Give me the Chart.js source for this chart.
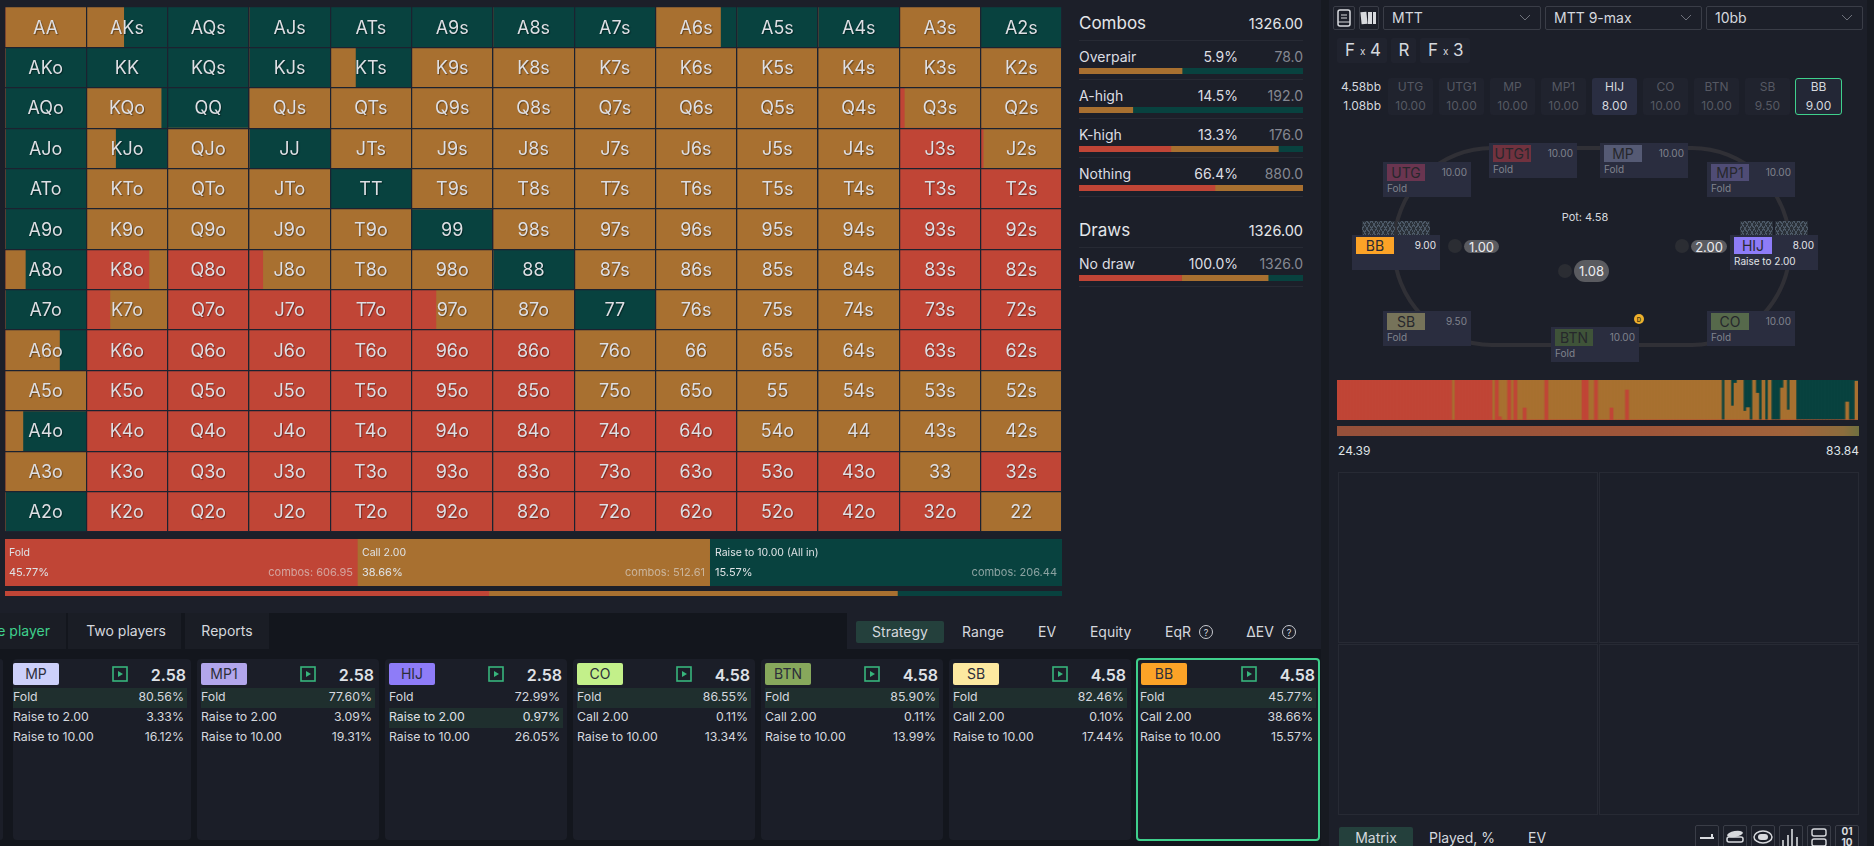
<!DOCTYPE html>
<html><head><meta charset="utf-8">
<script src="https://cdn.jsdelivr.net/npm/chart.js@4"></script>
<style>
html,body{margin:0;padding:0;width:1874px;height:846px;overflow:hidden;background:#1c1f29;font-family:Inter,"Noto Sans",sans-serif;}
#stage{position:absolute;left:0;top:0;width:1874px;height:846px;overflow:hidden;}
#stage div,#stage span,#stage canvas,#stage svg{position:absolute;box-sizing:border-box;}
#stage span{white-space:nowrap;line-height:1;}
</style></head><body><div id="stage"></div>
<script>
const RED='#c04536',ORANGE='#a87030',GREEN='#08423f';

/* ---------- data ---------- */
const ranks=['A','K','Q','J','T','9','8','7','6','5','4','3','2'];
const cellFold=[
[0,0,0,0,0,0,0,0,0,0,0,0,0],
[0,0,0,0,0,0,0,0,0,0,0,0,0],
[0,0,0,0,0,0,0,0,0,0,0,6,0],
[0,0,0,0,0,0,0,0,0,0,0,100,3],
[0,0,0,0,0,0,0,0,0,0,0,100,100],
[0,0,0,0,0,0,0,0,0,0,0,100,100],
[0,77,100,17,0,0,0,0,0,0,0,100,100],
[0,29,100,100,100,30,0,0,0,0,0,100,100],
[0,100,100,100,100,100,100,0,0,0,0,100,100],
[0,100,100,100,100,100,100,0,0,0,0,0,0],
[0,100,100,100,100,100,100,100,100,0,0,0,0],
[0,100,100,100,100,100,100,100,100,100,100,0,100],
[0,100,100,100,100,100,100,100,100,100,100,100,0]];
const cellCall=[
[100,46,0,0,0,0,0,0,80,0,0,100,0],
[0,0,0,0,31,100,100,100,100,100,100,100,100],
[0,92,0,100,100,100,100,100,100,100,100,94,100],
[0,36,100,0,100,100,100,100,100,100,100,0,97],
[0,100,100,100,0,100,100,100,100,100,100,0,0],
[0,100,100,100,100,0,100,100,100,100,100,0,0],
[25,23,0,83,100,100,0,100,100,100,100,0,0],
[0,71,0,0,0,70,100,0,100,100,100,0,0],
[67,0,0,0,0,0,0,100,100,100,100,0,0],
[100,0,0,0,0,0,0,100,100,100,100,100,100],
[22,0,0,0,0,0,0,0,0,100,100,100,100],
[100,0,0,0,0,0,0,0,0,0,0,100,0],
[0,0,0,0,0,0,0,0,0,0,0,0,100]];
const cellRaise=[
[0,54,100,100,100,100,100,100,20,100,100,0,100],
[100,100,100,100,69,0,0,0,0,0,0,0,0],
[100,8,100,0,0,0,0,0,0,0,0,0,0],
[100,64,0,100,0,0,0,0,0,0,0,0,0],
[100,0,0,0,100,0,0,0,0,0,0,0,0],
[100,0,0,0,0,100,0,0,0,0,0,0,0],
[75,0,0,0,0,0,100,0,0,0,0,0,0],
[100,0,0,0,0,0,0,100,0,0,0,0,0],
[33,0,0,0,0,0,0,0,0,0,0,0,0],
[0,0,0,0,0,0,0,0,0,0,0,0,0],
[78,0,0,0,0,0,0,0,0,0,0,0,0],
[0,0,0,0,0,0,0,0,0,0,0,0,0],
[100,0,0,0,0,0,0,0,0,0,0,0,0]];

const actionNames=['Fold','Call 2.00','Raise to 10.00 (All in)'];
const actionPct=[45.77,38.66,15.57];
const actionCombos=['606.95','512.61','206.44'];
const panelShare=[1,1,1];

const comboNames=['Overpair','A-high','K-high','Nothing'];
const comboPct=['5.9%','14.5%','13.3%','66.4%'];
const comboCount=['78.0','192.0','176.0','880.0'];
const comboFold=[0,0,41,60.7];
const comboCall=[46,24,48,39.3];
const comboRaise=[54,76,11,0];
const drawNames=['No draw'];
const drawPct=['100.0%'];
const drawCount=['1326.0'];
const drawFold=[45.77];
const drawCall=[38.66];
const drawRaise=[15.57];

const stripFold=[
100,100,100,100,100,100,100,100,100,100,100,100,100,100,100,100,100,100,100,100,
100,100,100,100,100,100,100,100,100,100,100,100,100,100,100,100,100,0,100,100,
100,100,100,100,100,100,100,100,100,100,0,100,8,0,0,100,0,100,0,0,
30,0,0,0,0,0,0,100,0,0,0,0,0,0,0,0,0,0,0,100,
100,0,0,100,0,0,0,0,30,0,0,0,0,75,0,0,0,0,0,0,
0,0,0,0,0,0,0,0,0,0,0,0,0,0,0,0,0,0,0,0,
0,0,0,0,0,0,0,0,0,0,0,0,0,0,0,0,0,0,0,0,
0,0,0,0,0,0,0,0,0,0,0,0,0,0,0,0,0,0,0,0,
0,0,0,0,0,0,0,0];
const stripCall=[
0,0,0,0,0,0,0,0,0,0,0,0,0,0,0,0,0,0,0,0,
0,0,0,0,0,0,0,0,0,0,0,0,0,0,0,0,0,100,0,0,
0,0,0,0,0,0,0,0,0,0,100,0,92,100,100,0,100,0,100,100,
70,100,100,100,100,100,100,0,100,100,100,100,100,100,100,100,100,100,100,0,
0,100,100,0,100,100,100,100,70,100,100,100,100,25,100,100,100,100,100,100,
100,100,100,100,100,100,100,100,100,100,100,100,100,100,100,100,100,100,100,100,
100,100,100,100,0,100,100,35,92,100,100,22,31,0,100,67,0,100,0,100,
0,0,0,80,100,25,100,100,0,0,0,0,0,0,0,0,0,0,0,0,
0,0,0,0,45,0,0,97];
const stripRaise=[
0,0,0,0,0,0,0,0,0,0,0,0,0,0,0,0,0,0,0,0,
0,0,0,0,0,0,0,0,0,0,0,0,0,0,0,0,0,0,0,0,
0,0,0,0,0,0,0,0,0,0,0,0,0,0,0,0,0,0,0,0,
0,0,0,0,0,0,0,0,0,0,0,0,0,0,0,0,0,0,0,0,
0,0,0,0,0,0,0,0,0,0,0,0,0,0,0,0,0,0,0,0,
0,0,0,0,0,0,0,0,0,0,0,0,0,0,0,0,0,0,0,0,
0,0,0,0,100,0,0,65,8,0,0,78,69,100,0,33,100,0,100,0,
100,100,100,20,0,75,0,0,100,100,100,100,100,100,100,100,100,100,100,100,
100,100,100,100,55,100,100,3];
const equityMin='24.39',equityMax='83.84';

const cardNames=['MP','MP1','HIJ','CO','BTN','SB','BB'];
const cardPots=['2.58','2.58','2.58','4.58','4.58','4.58','4.58'];
const cardAction2=['Raise to 2.00','Raise to 2.00','Raise to 2.00','Call 2.00','Call 2.00','Call 2.00','Call 2.00'];
const cardFoldPct=['80.56%','77.60%','72.99%','86.55%','85.90%','82.46%','45.77%'];
const cardMidPct=['3.33%','3.09%','0.97%','0.11%','0.11%','0.10%','38.66%'];
const cardRaisePct=['16.12%','19.31%','26.05%','13.34%','13.99%','17.44%','15.57%'];
const seatNames=['UTG','UTG1','MP','MP1','HIJ','CO','BTN','SB','BB'];
const seatStacks=['10.00','10.00','10.00','10.00','8.00','10.00','10.00','9.50','9.00'];

/* ---------- helpers ---------- */
const stage=document.getElementById('stage');
function box(x,y,w,h,bg,extra){const d=document.createElement('div');
  d.style.cssText=`left:${x}px;top:${y}px;width:${w}px;height:${h}px;background:${bg||'transparent'};${extra||''}`;stage.appendChild(d);return d;}
function txt(x,y,s,o){o=o||{};const e=document.createElement('span');e.textContent=s;
  const a=o.align||'left';
  const tx=a==='center'?'-50%':a==='right'?'-100%':'0';
  e.style.cssText=`left:${x}px;top:${y}px;transform:translate(${tx},-50%);font-size:${o.size||13}px;color:${o.color||'#d5d8de'};font-weight:${o.weight||400};${o.extra||''}`;
  stage.appendChild(e);return e;}
function svg(x,y,w,h,inner){const n=document.createElement('div');n.style.cssText=`left:${x}px;top:${y}px;width:${w}px;height:${h}px;`;
  n.innerHTML=`<svg width="${w}" height="${h}" viewBox="0 0 ${w} ${h}" style="left:0;top:0">${inner}</svg>`;stage.appendChild(n);}
function canvas(x,y,w,h,renderW){const c=document.createElement('canvas');c.width=renderW||w;c.height=h;
  c.style.cssText=`left:${x}px;top:${y}px;width:${w}px;height:${h}px;`;stage.appendChild(c);return c;}
const baseOpts={responsive:false,animation:false,maintainAspectRatio:false,events:[],
  layout:{padding:0},plugins:{legend:{display:false},tooltip:{enabled:false},title:{display:false}}};
function hbar(x,y,w,h,segments,max){
  new Chart(canvas(x,y,w,h),{type:'bar',data:{labels:[''],datasets:segments.map(s=>({data:[s.value],backgroundColor:s.color,borderWidth:0,barPercentage:1,categoryPercentage:1}))},
    options:{...baseOpts,indexAxis:'y',scales:{x:{display:false,stacked:true,min:0,max},y:{display:false,stacked:true}}}});
}

/* ---------- background regions ---------- */
box(1321,0,8,846,'#171a21');
box(1867,0,7,846,'#171a21');
box(0,649,1321,197,'#13161d');
box(0,613,847,36,'#13161d');

/* ---------- hand matrix ---------- */
const mDatasets=[];
ranks.forEach((_,c)=>{
  mDatasets.push({data:cellFold.map(r=>r[c]/100),backgroundColor:RED});
  mDatasets.push({data:cellCall.map(r=>r[c]/100),backgroundColor:ORANGE});
  mDatasets.push({data:cellRaise.map(r=>r[c]/100),backgroundColor:GREEN});
});
mDatasets.forEach(d=>{d.borderWidth=0;d.barPercentage=1;d.categoryPercentage=1;});
const handLabel=(r,c)=>r===c?ranks[r]+ranks[c]:c>r?ranks[r]+ranks[c]+'s':ranks[c]+ranks[r]+'o';
const handLabelPlugin={id:'handLabels',afterDraw(ch){
  const {ctx,scales:{x,y}}=ch;ctx.save();
  ctx.font='18px Inter';ctx.textAlign='center';ctx.textBaseline='middle';
  ctx.shadowColor='rgba(0,0,0,.4)';ctx.shadowOffsetX=1;ctx.shadowOffsetY=1;ctx.shadowBlur=1;
  ctx.fillStyle='#dedfe4';
  ranks.forEach((_,r)=>ranks.forEach((_,c)=>{
    ctx.fillText(handLabel(r,c),x.getPixelForValue(c+.5),y.getPixelForValue(r)+1);
  }));
  ctx.restore();
}};
new Chart(canvas(5,7,1057,525),{type:'bar',data:{labels:ranks,datasets:mDatasets},plugins:[handLabelPlugin],
  options:{...baseOpts,indexAxis:'y',scales:{
    x:{stacked:true,min:0,max:13,position:'bottom',ticks:{display:false,stepSize:1},border:{display:false},grid:{z:1,color:'#1c2230',lineWidth:1.2,drawTicks:false}},
    y:{stacked:true,ticks:{display:false},border:{display:false},grid:{z:1,color:'#1c2230',lineWidth:1.2,drawTicks:false}}}}});

/* ---------- action panels and thin bar ---------- */
hbar(5,539,1057,47,panelShare.map((v,i)=>({value:v,color:[RED,ORANGE,GREEN][i]})),3);
hbar(5,591,1057,5,actionPct.map((v,i)=>({value:v,color:[RED,ORANGE,GREEN][i]})),100);
[[9,353],[362,705],[715,1057]].forEach(([l,r],i)=>{
  txt(l,553,actionNames[i],{size:10.5,color:'#dfe3e6'});
  txt(l,572,actionPct[i].toFixed(2)+'%',{size:11,color:'#dfe3e6'});
  txt(r,572,'combos: '+actionCombos[i],{size:11,color:'rgba(225,225,225,.6)',align:'right'});
});

/* ---------- combos panel ---------- */
const ROWY=[57,96,135,174];
txt(1079,23,'Combos',{size:17,color:'#e4e6ea'});
txt(1303,24,'1326.00',{size:14.5,color:'#e4e6ea',align:'right'});
box(1079,40,224,1,'#272a34');
comboNames.forEach((n,i)=>{
  const y=ROWY[i];
  txt(1079,y,n,{size:14,color:'#dcdee3'});
  txt(1238,y,comboPct[i],{size:14,color:'#dcdee3',align:'right'});
  txt(1303,y,comboCount[i],{size:14,color:'#858892',align:'right'});
  hbar(1079,y+11,224,6,[{value:comboFold[i],color:RED},{value:comboCall[i],color:ORANGE},{value:comboRaise[i],color:GREEN}],100);
  box(1079,y+22,224,1,'#272a34');
});
txt(1079,230,'Draws',{size:17,color:'#e4e6ea'});
txt(1303,231,'1326.00',{size:14.5,color:'#e4e6ea',align:'right'});
box(1079,247,224,1,'#272a34');
drawNames.forEach((n,i)=>{
  const y=264;
  txt(1079,y,n,{size:14,color:'#dcdee3'});
  txt(1238,y,drawPct[i],{size:14,color:'#dcdee3',align:'right'});
  txt(1303,y,drawCount[i],{size:14,color:'#858892',align:'right'});
  hbar(1079,y+11,224,6,[{value:drawFold[i],color:RED},{value:drawCall[i],color:ORANGE},{value:drawRaise[i],color:GREEN}],100);
  box(1079,y+22,224,1,'#272a34');
});

/* ---------- bottom tabs ---------- */
box(0,613,66,36,'#1a1d25');box(68,613,113,36,'#1a1d25');box(185,613,84,36,'#1a1d25');
txt(50,631,'One player',{size:14,color:'#3fd08c',align:'right'});
txt(126,631,'Two players',{size:14,color:'#d5d8de',align:'center'});
txt(227,631,'Reports',{size:14,color:'#d5d8de',align:'center'});
box(856,621,88,22,'#24403c','border-radius:2px');
[['Strategy',900],['Range',983],['EV',1047],['Equity',1110.6],['EqR',1178],['ΔEV',1260]].forEach(([s,x])=>txt(x,632,s,{size:14,color:'#d5d8de',align:'center'}));
[1206,1289].forEach(x=>{box(x-7,625,14,14,'','border:1px solid #c8cad0;border-radius:50%');
  txt(x,632,'?',{size:9,color:'#d5d8de',align:'center'});});

/* ---------- player cards ---------- */
box(-100,659,103,181,'#1b1e28','border-radius:3px');
const cardX=[[13,191],[197,379],[385,567],[573,755],[761,943],[949,1131],[1136,1320]];
const cardColor=['#cdd0fa','#b2a6ec','#8e7cf8','#c3f08a','#87a85c','#fde9a0','#fca327'];
cardNames.forEach((n,i)=>{
  const [l,r]=cardX[i],pad=i===0?0:4;
  const last=i===6;
  box(l,last?658:659,r-l,last?183:181,'#1b1e28',`border-radius:4px;${last?'border:2px solid #3fd08c;':''}`);
  box(l+pad+(last?1:0),663,46,22,cardColor[i],'border-radius:2px');
  txt(l+pad+(last?1:0)+23,674,n,{size:14,color:'#2c2e3a',align:'center'});
  svg(r-79,666,16,16,'<rect x="1" y="1" width="14" height="14" fill="none" stroke="#37b57c" stroke-width="1.6"/><path d="M6 5 L11 8 L6 11 Z" fill="#37b57c"/>');
  txt(r-5,675,cardPots[i],{size:16,weight:600,color:'#dfe1e6',align:'right'});
  const hi=i===2?708:688;
  box(l+pad,hi,r-l-pad-4,20,'#1f2f2e');
  const bright=i===2?'#dfe1e6':'#d5d8de';
  [['Fold',cardFoldPct[i],697,'#d5d8de'],[cardAction2[i],cardMidPct[i],717,bright],['Raise to 10.00',cardRaisePct[i],737,'#d5d8de']].forEach(([a,p,y,col])=>{
    txt(l+pad,y,a,{size:12.3,color:col});
    txt(r-7,y,p,{size:12.3,color:col,align:'right'});
  });
});

/* ---------- right: selectors ---------- */
const ICON='#d8dade';
box(1333,6,22,24,'','border:1px solid #3a3d47;border-radius:2px');
svg(1336,9,16,18,`<rect x="2" y="1" width="12" height="16" rx="2" fill="none" stroke="${ICON}" stroke-width="1.5"/><path d="M5 6H11M5 9H11M2 13H14" stroke="${ICON}" stroke-width="1.2"/>`);
box(1359,6,20,24,'','border:1px solid #3a3d47;border-radius:2px');
svg(1360,10,18,16,`<rect x="1" y="2" width="6" height="12" fill="${ICON}" transform="rotate(-6 4 8)"/><rect x="8" y="2" width="4" height="12" fill="${ICON}"/><rect x="13" y="2" width="3" height="12" fill="${ICON}"/>`);
[[1383,158,'MTT'],[1545,157,'MTT 9-max'],[1706,157,'10bb']].forEach(([x,w,s])=>{
  box(x,6,w,24,'','border:1px solid #3a3d47;border-radius:2px');
  txt(x+9,18,s,{size:14,color:'#d5d8de'});
  svg(x+w-22,14,12,8,'<path d="M1 1 L6 6 L11 1" fill="none" stroke="#6e717b" stroke-width="1"/>');
});
[[1337,50],[1391,25],[1420,50]].forEach(([x,w])=>box(x,38,w,25,'#20232e','border-radius:2px'));
txt(1345,50,'F',{size:17});txt(1360,51,'x',{size:10});txt(1370,50,'4',{size:17});
txt(1404,50,'R',{size:17,align:'center'});
txt(1428,50,'F',{size:17});txt(1443,51,'x',{size:10});txt(1453,50,'3',{size:17});

/* stacks row */
txt(1381,87,'4.58bb',{size:12,color:'#d5d8de',align:'right'});
txt(1381,106,'1.08bb',{size:12,color:'#d5d8de',align:'right'});
const stackX=[1388,1439,1490,1541,1592,1643,1694,1745,1795];
seatNames.forEach((n,i)=>{
  const on=n==='HIJ',bb=n==='BB';
  const w=bb?47:45;
  box(stackX[i],78,w,37,on?'#2a2e42':bb?'#232736':'#20232e',`border-radius:3px;${bb?'border:1px solid #3fd08c;':''}`);
  const col=on||bb?'#d5d8de':'#565963';
  txt(stackX[i]+w/2,87,n,{size:12,color:col,align:'center'});
  txt(stackX[i]+w/2,106,seatStacks[i],{size:12,color:col,align:'center'});
});

/* ---------- table ---------- */
box(1392,146,400,201,'','border:4px solid #303036;border-radius:100px');
const seats={UTG:[1383,162,'#6a3550'],UTG1:[1489,143,'#71323f'],MP:[1600,143,'#555a74'],MP1:[1707,162,'#4f4c75'],
  HIJ:[1730,235,'#8e7cf8'],CO:[1707,311,'#56694b'],BTN:[1551,327,'#3f5339'],SB:[1383,311,'#76735a'],BB:[1352,235,'#fca327']};
[[1362,221],[1397,221],[1740,221],[1775,221]].forEach(([x,y])=>box(x,y,33,14,'#2a3038','background-image:repeating-linear-gradient(60deg,transparent 0 3px,#4c5866 3px 4px),repeating-linear-gradient(-60deg,transparent 0 3px,#4c5866 3px 4px);border-radius:2px 2px 0 0'));
seatNames.forEach((n,i)=>{
  const [x,y,c]=seats[n];
  const live=n==='HIJ'||n==='BB';
  box(x,y,88,35,'#2a2d3f');
  box(x+4,y+2,38,17,c);
  txt(x+23,y+11,n,{size:14,color:live?'#2a2a33':'#26272c',align:'center'});
  txt(x+84,y+10,seatStacks[i],{size:10,color:live?'#e6e6ea':'#80838d',align:'right'});
  if(n==='HIJ')txt(x+4,y+26,'Raise to 2.00',{size:10,color:'#e0e2e6'});
  else if(n!=='BB')txt(x+4,y+26,'Fold',{size:10,color:'#80838d'});
});
txt(1585,217,'Pot: 4.58',{size:11,color:'#d5d8de',align:'center'});
[[1455,246,1464,240,35,13,'1.00',13],[1682,246,1691,240,36,13,'2.00',13],[1565,271,1574,260,35,22,'1.08',13]].forEach(([cx,cy,px,py,pw,ph,s,sz])=>{
  box(cx-7,cy-7,14,14,'#2b2d33','border-radius:50%');
  box(px,py,pw,ph,'#5a5b60',`border-radius:${ph/2}px`);
  txt(px+pw/2,py+ph/2,s,{size:sz,color:'#ecedf0',align:'center'});
});
box(1634,314,10,10,'#eeb02c','border-radius:50%');
txt(1639,319.5,'D',{size:6,weight:700,color:'#4a3a10',align:'center'});

/* ---------- hand strip ---------- */
new Chart(canvas(1337,380,521,40,504),{type:'bar',data:{labels:stripFold.map((_,i)=>i),datasets:[
  {data:stripFold,backgroundColor:RED},{data:stripCall,backgroundColor:ORANGE},{data:stripRaise,backgroundColor:GREEN}
 ].map(d=>({...d,borderWidth:0,barPercentage:1,categoryPercentage:1}))},
 options:{...baseOpts,scales:{x:{display:false,stacked:true},y:{display:false,stacked:true,min:0,max:100}}}});
new Chart(canvas(1337,426,522,10),{type:'bar',data:{labels:[''],datasets:[{data:[100],borderWidth:0,barPercentage:1,categoryPercentage:1,
  backgroundColor(c){const g=c.chart.ctx.createLinearGradient(0,0,522,0);
    g.addColorStop(0,'#96503a');g.addColorStop(.6,'#9f5639');g.addColorStop(.88,'#a0643b');g.addColorStop(.97,'#8c6d3d');g.addColorStop(1,'#6f7040');return g;}}]},
 options:{...baseOpts,indexAxis:'y',scales:{x:{display:false,min:0,max:100},y:{display:false}}}});
txt(1338,451,equityMin,{size:12,color:'#dfe3e6'});
txt(1859,451,equityMax,{size:12,color:'#dfe3e6',align:'right'});

/* ---------- empty panes and footer ---------- */
[[1338,472],[1599,472],[1338,644],[1599,644]].forEach(([x,y])=>box(x,y,260,171,'','border:1px solid #272a34'));
box(1339,827,74,19,'#24403c','border-radius:2px 2px 0 0');
txt(1376,838,'Matrix',{size:14,color:'#d5d8de',align:'center'});
txt(1462,838,'Played, %',{size:14,color:'#d5d8de',align:'center'});
txt(1537,838,'EV',{size:14,color:'#d5d8de',align:'center'});
[1695,1723,1751,1779,1807,1835].forEach((x,i)=>{
  box(x,825,24,24,'','border:1px solid #3a3d47;border-radius:2px');
  const inner=[
   `<path d="M4 11H18V13H4Z" fill="${ICON}"/><path d="M15 8H17V11H15Z" fill="${ICON}"/>`,
   `<ellipse cx="11" cy="8" rx="8" ry="3" fill="${ICON}" transform="rotate(-10 11 8)"/><rect x="3" y="11" width="16" height="5" rx="2" fill="none" stroke="${ICON}" stroke-width="1.5"/>`,
   `<ellipse cx="11" cy="11" rx="9" ry="6" fill="none" stroke="${ICON}" stroke-width="1.5"/><rect x="6" y="8" width="10" height="6" rx="3" fill="${ICON}"/>`,
   `<path d="M3 20V14M8 20V9M12 20V3M17 20V11" stroke="${ICON}" stroke-width="1.6"/>`,
   `<rect x="4" y="3" width="14" height="7" rx="2" fill="none" stroke="${ICON}" stroke-width="1.4"/><rect x="4" y="13" width="14" height="7" rx="2" fill="none" stroke="${ICON}" stroke-width="1.4"/>`,
   ''][i];
  if(inner)svg(x+1,826,22,20,inner);
});
txt(1847,831,'01',{size:10,weight:700,color:ICON,align:'center'});
txt(1847,842,'10',{size:10,weight:700,color:ICON,align:'center'});
</script></body></html>
